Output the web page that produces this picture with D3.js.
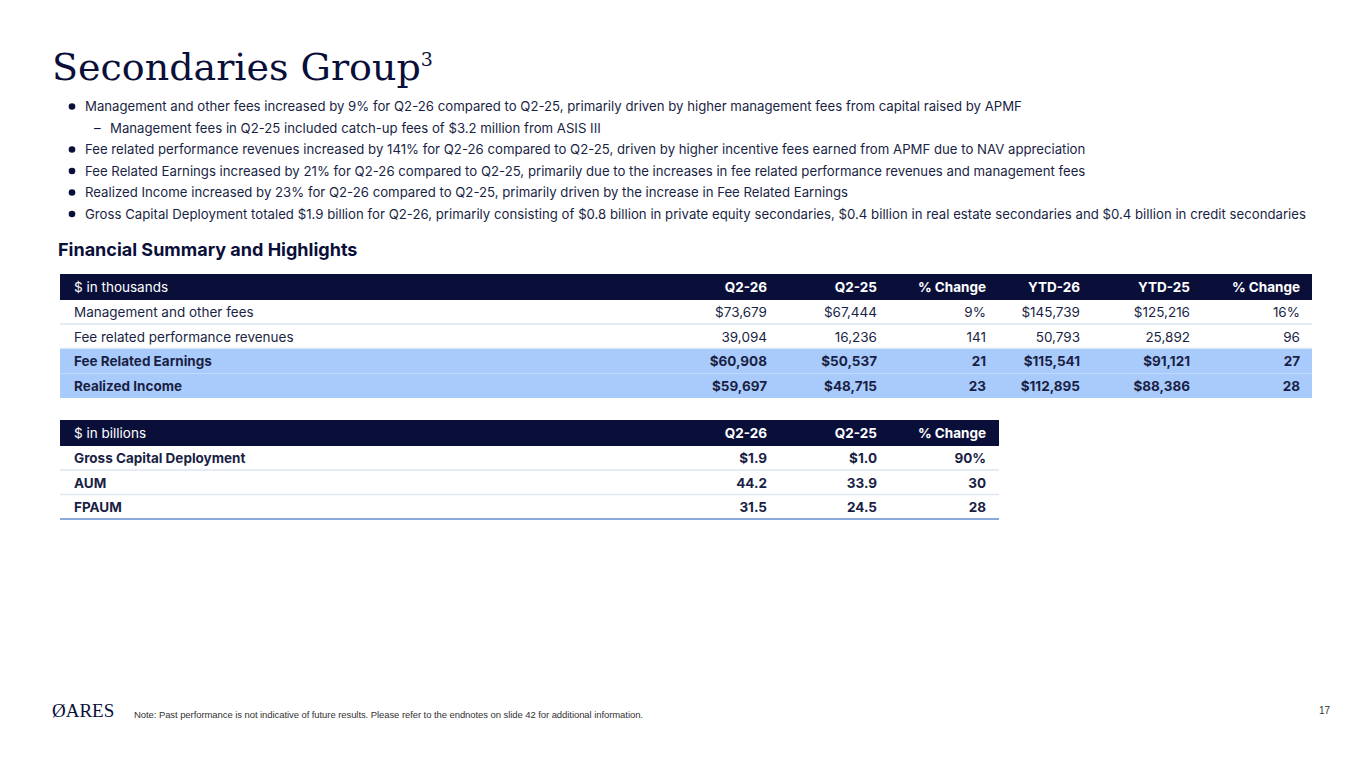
<!DOCTYPE html>
<html><head><meta charset="utf-8">
<script src="https://cdn.jsdelivr.net/npm/d3@7"></script>
<style>body{margin:0;background:#fff}svg{display:block}</style>
</head><body>
<svg id="c" width="1365" height="768"></svg>
<script>
var bullets = [
  [0,"Management and other fees increased by 9% for Q2-26 compared to Q2-25, primarily driven by higher management fees from capital raised by APMF"],
  [1,"Management fees in Q2-25 included catch-up fees of $3.2 million from ASIS III"],
  [0,"Fee related performance revenues increased by 141% for Q2-26 compared to Q2-25, driven by higher incentive fees earned from APMF due to NAV appreciation"],
  [0,"Fee Related Earnings increased by 21% for Q2-26 compared to Q2-25, primarily due to the increases in fee related performance revenues and management fees"],
  [0,"Realized Income increased by 23% for Q2-26 compared to Q2-25, primarily driven by the increase in Fee Related Earnings"],
  [0,"Gross Capital Deployment totaled $1.9 billion for Q2-26, primarily consisting of $0.8 billion in private equity secondaries, $0.4 billion in real estate secondaries and $0.4 billion in credit secondaries"]
];
var cols1 = ["$ in thousands","Q2-26","Q2-25","% Change","YTD-26","YTD-25","% Change"];
var rows1 = [
  ["Management and other fees","$73,679","$67,444","9%","$145,739","$125,216","16%"],
  ["Fee related performance revenues","39,094","16,236","141","50,793","25,892","96"],
  ["Fee Related Earnings","$60,908","$50,537","21","$115,541","$91,121","27"],
  ["Realized Income","$59,697","$48,715","23","$112,895","$88,386","28"]
];
var hi1 = [false,false,true,true];
var cols2 = ["$ in billions","Q2-26","Q2-25","% Change"];
var rows2 = [
  ["Gross Capital Deployment","$1.9","$1.0","90%"],
  ["AUM","44.2","33.9","30"],
  ["FPAUM","31.5","24.5","28"]
];
var colRight = [null,767,877,986,1080,1190,1300];

var svg = d3.select("#c");
var F = "Inter, 'Noto Sans', sans-serif";
var navy = "#0a0f3a";

var t = svg.append("text").attr("x",52).attr("y",80).attr("font-family","'DejaVu Serif',serif")
  .attr("font-size",38).attr("fill",navy).text("Secondaries Group");
t.append("tspan").attr("font-size",19).attr("dy",-14).text("3");

var by = d3.scaleLinear().domain([0,1]).range([107,128.5]);
bullets.forEach(function(b,i){
  var y = by(i)+4;
  if (b[0]===0) svg.append("circle").attr("cx",72).attr("cy",y-4.5).attr("r",3.3).attr("fill",navy);
  else svg.append("text").attr("x",94).attr("y",y).attr("font-family",F).attr("font-size",13.2).attr("fill",navy).text("–");
  svg.append("text").attr("x",b[0]?110:85).attr("y",y).attr("font-family",F).attr("font-size",13.2)
    .attr("fill","#1a1f45").attr("textLength", i===5 ? 1221 : null).text(b[1]);
});

svg.append("text").attr("x",58).attr("y",256).attr("font-family",F).attr("font-size",18).attr("font-weight",700)
  .attr("fill",navy).text("Financial Summary and Highlights");

function table(cols, rows, top, right, hi, allBold){
  var g = svg.append("g");
  g.append("rect").attr("x",60).attr("y",top).attr("width",right-60).attr("height",26).attr("fill",navy);
  cols.forEach(function(c,j){
    g.append("text").attr("x",j?colRight[j]:74).attr("y",top+18).attr("text-anchor",j?"end":"start")
      .attr("font-family",F).attr("font-size",13.5).attr("font-weight",j?700:400).attr("fill","#fff").text(c);
  });
  var y = d3.scaleLinear().domain([0,1]).range([top+26,top+50.5]);
  rows.forEach(function(r,i){
    var y0 = y(i), h = hi && hi[i];
    if (h) g.append("rect").attr("x",60).attr("y",y0).attr("width",right-60).attr("height",24.5).attr("fill","#a9cbfb");
    else g.append("line").attr("x1",60).attr("x2",right).attr("y1",y0+24).attr("y2",y0+24)
      .attr("stroke", i===rows.length-1 ? "#8aa9d8":"#dde6f3").attr("stroke-width",i===rows.length-1?2:1.5);
    r.forEach(function(v,j){
      g.append("text").attr("x",j?colRight[j]:74).attr("y",y0+17).attr("text-anchor",j?"end":"start")
        .attr("font-family",F).attr("font-size",13.5).attr("font-weight",(h||allBold)?700:400)
        .attr("fill","#1a1f45").text(v);
    });
  });
}
table(cols1, rows1, 274, 1312, hi1, false);
table(cols2, rows2, 420, 999, null, true);

svg.append("text").attr("x",52).attr("y",717).attr("font-family","'Liberation Serif',serif").attr("font-size",19)
  .attr("fill",navy).text("\u00D8ARES");
svg.append("text").attr("x",134).attr("y",718).attr("font-family","'Liberation Sans',Arial,sans-serif").attr("font-size",9.5)
  .attr("fill","#333").attr("textLength",509).text("Note: Past performance is not indicative of future results. Please refer to the endnotes on slide 42 for additional information.");
svg.append("text").attr("x",1330).attr("y",714).attr("text-anchor","end").attr("font-family","'Liberation Sans',sans-serif")
  .attr("font-size",10).attr("fill","#333").text("17");
</script>
</body></html>
